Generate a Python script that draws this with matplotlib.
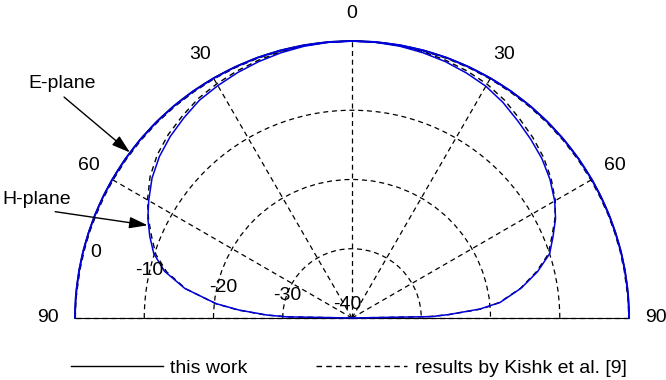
import numpy as np
import matplotlib.pyplot as plt
from matplotlib.lines import Line2D

plt.rcParams['font.family'] = ['Liberation Sans', 'DejaVu Sans']
plt.rcParams['font.size'] = 14

# angle from broadside (deg), negative = left half
angles = [-90, -89, -88, -86, -84, -80, -76, -72, -68, -64, -60, -55, -50, -45,
          -40, -35, -30, -25, -20, -15, -10, -5, 0, 5, 10, 15, 20, 25, 30, 35,
          40, 45, 50, 55, 60, 64, 68, 72, 76, 80, 84, 86, 88, 89, 90]

# normalised patterns in dB
e_this = [0.0, 0.0, 0.0, 0.0, 0.0, 0.0, 0.0, -0.02, -0.02, -0.02, -0.02,
          -0.02, -0.02, -0.02, -0.02, -0.02, -0.02, -0.02, 0.0, 0.0, 0.0, 0.0,
          0.0, 0.0, 0.0, 0.0, 0.0, -0.02, -0.02, -0.02, -0.02, -0.02, -0.02,
          -0.02, -0.02, -0.02, -0.02, -0.02, 0.0, 0.0, 0.0, 0.0, 0.0, 0.0, 0.0]
e_kishk = [-0.05, -0.05, -0.05, -0.05, -0.1, -0.1, -0.12, -0.12, -0.15, -0.15,
           -0.15, -0.15, -0.15, -0.15, -0.15, -0.15, -0.12, -0.12, -0.1, -0.1,
           -0.05, -0.05, 0.0, -0.05, -0.05, -0.1, -0.1, -0.12, -0.12, -0.15,
           -0.15, -0.15, -0.15, -0.15, -0.15, -0.15, -0.12, -0.12, -0.1, -0.1,
           -0.1, -0.05, -0.05, -0.05, -0.05]
h_this = [-40, -30.5, -27.7, -23.7, -20.3, -15.5, -12.1, -9.9, -8.5, -7.2,
          -6.1, -4.75, -3.7, -2.9, -2.25, -1.6, -1.25, -0.9, -0.6, -0.35, -0.15,
          -0.05, 0.0, -0.05, -0.15, -0.35, -0.6, -0.95, -1.35, -2.0, -2.8, -3.5,
          -4.2, -5.1, -6.2, -7.3, -8.7, -10.0, -12.4, -15.2, -18.5, -21.5,
          -26.1, -28.5, -40]
h_kishk = [-40, -31, -27.5, -23.5, -20.2, -15.6, -12.4, -10.2, -8.8, -7.3,
           -5.9, -4.4, -3.3, -2.5, -1.9, -1.3, -0.95, -0.65, -0.4, -0.2, -0.08,
           -0.02, 0.0, -0.02, -0.08, -0.2, -0.4, -0.65, -1.0, -1.6, -2.4, -3.1,
           -3.9, -4.9, -6.1, -7.4, -8.9, -10.2, -12.6, -15.3, -18.6, -21.2,
           -26.0, -29.0, -40]

theta_ticks = [-90, -60, -30, 0, 30, 60, 90]
theta_labels = ['90', '60', '30', '0', '30', '60', '90']
r_rings = [-30, -20, -10]
r_labels = ['0', '-10', '-20', '-30', '-40']

dash = (0, (4, 3))
th = np.deg2rad(angles)

fig = plt.figure(figsize=(6.66, 3.8), dpi=100)
ax = fig.add_axes([-0.3033, -0.2013, 1.6637, 1.4579], projection='polar')
ax.set_theta_zero_location('N')
ax.set_theta_direction(-1)
ax.set_thetamin(-90)
ax.set_thetamax(90)
ax.set_ylim(-40, 0)

ax.plot(th, e_kishk, color='k', ls=dash, lw=1, clip_on=False)
ax.plot(th, h_kishk, color='k', ls=dash, lw=1, clip_on=False)
ax.plot(th, e_this, color='#0000dd', lw=1.4, clip_on=False, zorder=3)
ax.plot(th, h_this, color='#0000dd', lw=1.1, clip_on=False, zorder=3)

ax.set_thetagrids(theta_ticks, theta_labels)
ax.set_rgrids(r_rings, labels=['', '', ''])
ax.grid(True, color='k', ls=dash, lw=0.9)
for gl in ax.xaxis.get_gridlines():
    gl.set_clip_on(False)
ax.tick_params(axis='x', pad=9)
ax.spines['polar'].set_color('k')
ax.spines['polar'].set_linewidth(1.0)
for s in ['start', 'end', 'inner']:
    ax.spines[s].set_visible(False)

# ring labels along the lower-left
label_pos = [(-75.7, -1.8), (-76.8, -9.9), (-76.6, -20.9), (-70.5, -30.1), (-19.7, -37.9)]
for txt, (a, r) in zip(r_labels, label_pos):
    ax.text(np.deg2rad(a), r, txt, ha='center', va='center')

arrow = dict(arrowstyle='-|>,head_length=0.8,head_width=0.25', color='k', lw=1,
             shrinkA=2, shrinkB=0)
ax.annotate('E-plane', xy=(np.deg2rad(-53.3), 0), xytext=(62, 296),
            textcoords='figure pixels', ha='center', va='center',
            arrowprops=dict(arrow, relpos=(0.45, 0)), annotation_clip=False)
ax.annotate('H-plane', xy=(np.deg2rad(-65.6), -7.6), xytext=(37, 180),
            textcoords='figure pixels', ha='center', va='center',
            arrowprops=dict(arrow, relpos=(0.45, 0)), annotation_clip=False)

handles = [Line2D([], [], color='k', lw=1), Line2D([], [], color='k', ls=dash, lw=1)]
fig.legend(handles, ['this work', 'results by Kishk et al. [9]'], loc='center',
           bbox_to_anchor=(0.524, 0.032), ncol=2, frameon=False,
           handlelength=4.7, handletextpad=0.4, columnspacing=3.5)

fig.savefig('out.png', dpi=100)
